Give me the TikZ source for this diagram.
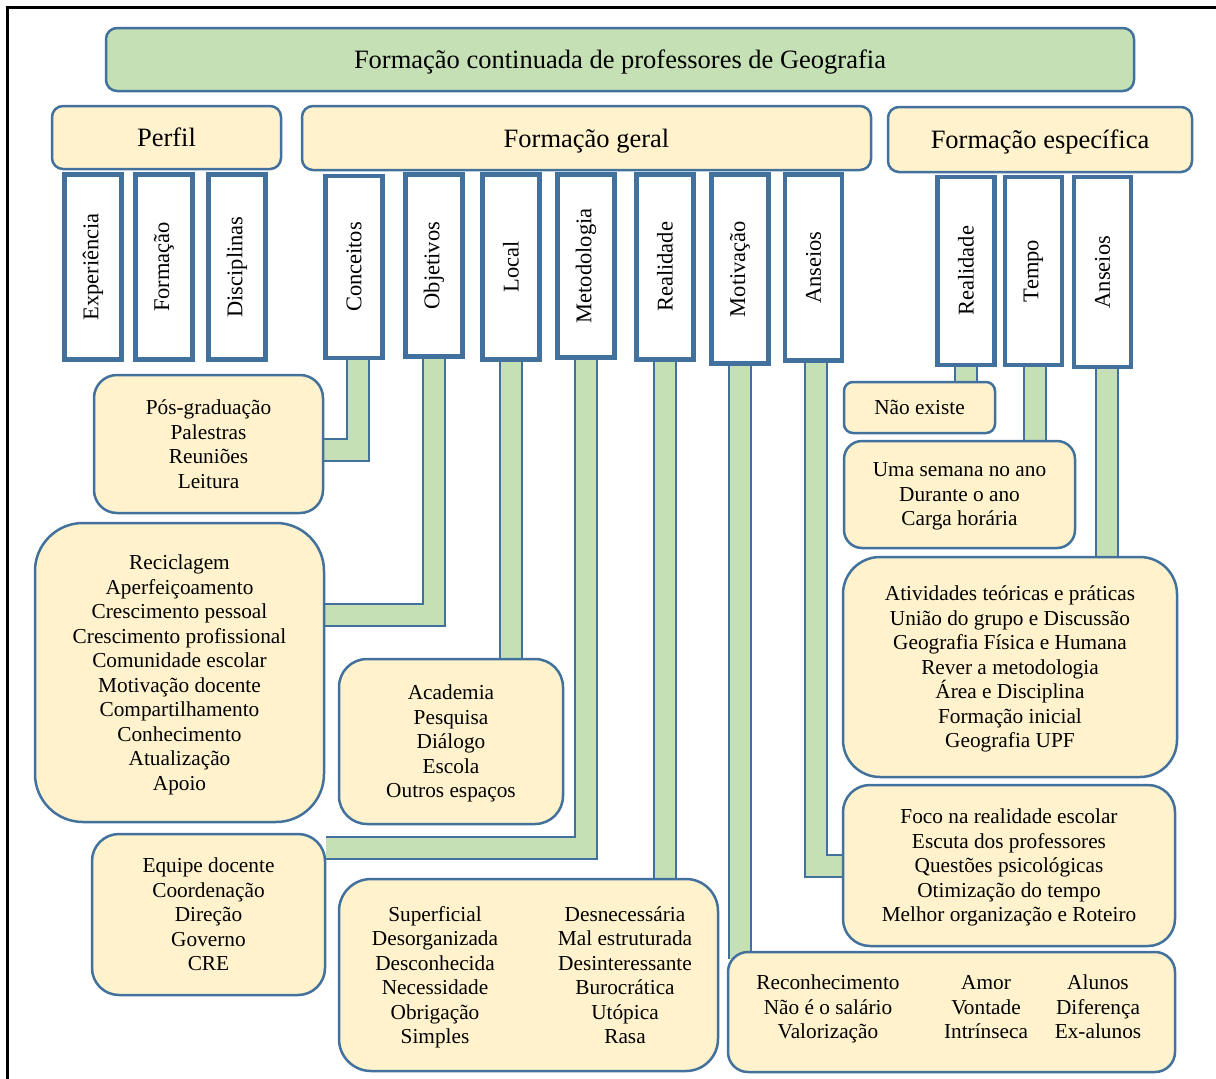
\documentclass[tikz,border=0pt]{standalone}
\usepackage{fontspec}
\usepackage{graphicx}
\setmainfont{Liberation Serif}
\usetikzlibrary{backgrounds}

\definecolor{edge}{RGB}{65,113,156}
\definecolor{leaf}{RGB}{197,224,180}
\definecolor{cream}{RGB}{255,242,204}

\tikzset{
  titlebox/.style={draw=edge, line width=2.5pt, fill=leaf, rounded corners=11pt,
    inner sep=0pt, text height=17pt, text depth=0pt, font=\fontsize{26.5}{30}\selectfont},
  headbox/.style={draw=edge, line width=2.5pt, fill=cream, rounded corners=11pt,
    inner sep=0pt, text height=18.5pt, text depth=0pt, font=\fontsize{26.5}{30}\selectfont},
  catbox/.style={draw=edge, line width=4.5pt, fill=white, inner sep=0pt,
    minimum width=57pt, font=\fontsize{22.5}{26}\selectfont},
  listbox/.style={draw=edge, line width=2.5pt, fill=cream, inner sep=0pt,
    align=center, text depth=0pt, font=\fontsize{21.3}{24.5}\selectfont},
  listtext/.style={align=center, inner sep=0pt, text depth=0pt,
    font=\fontsize{21.3}{24.5}\selectfont},
  conn/.style={draw=edge, line width=2pt, double=leaf, double distance=20pt},
  frameline/.style={draw=black, line width=3pt},
}

\newcommand{\vlabel}[1]{\rotatebox{90}{#1}}

\begin{document}
\begin{tikzpicture}[x=1pt, y=-1pt]
\useasboundingbox (0,0) rectangle (1216,1079);
\clip (0,0) rectangle (1216,1079);

% title and the three main headings
\node[titlebox, minimum width=1028pt, minimum height=63pt] (title) at (620,59.5)
  {Formação continuada de professores de Geografia};
\node[headbox, minimum width=229pt, minimum height=63pt] (perfil) at (166.5,137.5) {Perfil};
\node[headbox, minimum width=569pt, minimum height=64pt] (geral) at (586.5,138) {Formação geral};
\node[headbox, minimum width=304pt, minimum height=65pt] (espec) at (1040,139.5) {Formação específica};

% category boxes under "Perfil"
\node[catbox, minimum height=185pt] (exper) at (93,267) {\vlabel{Experiência}};
\node[catbox, minimum height=185pt] (forma) at (164,267) {\vlabel{Formação}};
\node[catbox, minimum height=185pt] (disc) at (237,267) {\vlabel{Disciplinas}};

% category boxes under "Formação geral"
\node[catbox, minimum height=182pt] (conc) at (354,267) {\vlabel{Conceitos}};
\node[catbox, minimum height=182pt] (objet) at (434,265.5) {\vlabel{Objetivos}};
\node[catbox, minimum height=185pt] (local) at (511,267) {\vlabel{Local}};
\node[catbox, minimum height=183pt] (metod) at (586,266) {\vlabel{Metodologia}};
\node[catbox, minimum height=185pt] (real) at (665,267) {\vlabel{Realidade}};
\node[catbox, minimum height=189pt] (motiv) at (740,269) {\vlabel{Motivação}};
\node[catbox, minimum height=186pt] (ans) at (813.5,267.5) {\vlabel{Anseios}};

% category boxes under "Formação específica"
\node[catbox, minimum height=188pt] (realesp) at (966,271) {\vlabel{Realidade}};
\node[catbox, minimum height=188pt] (tempo) at (1033.5,271) {\vlabel{Tempo}};
\node[catbox, minimum height=190pt] (ansesp) at (1102.5,272) {\vlabel{Anseios}};

% answer boxes
\node[listbox, minimum width=229pt, minimum height=138pt, rounded corners=23pt] (pos) at (208.5,444)
  {Pós-graduação\\Palestras\\Reuniões\\Leitura};
\node[listbox, minimum width=289pt, minimum height=299pt, rounded corners=48pt] (recic) at (179.5,672.5)
  {Reciclagem\\Aperfeiçoamento\\Crescimento pessoal\\Crescimento profissional\\Comunidade escolar\\Motivação docente\\Compartilhamento\\Conhecimento\\Atualização\\Apoio};
\node[listbox, minimum width=224pt, minimum height=165pt, rounded corners=28pt] (acad) at (451,741.5)
  {Academia\\Pesquisa\\Diálogo\\Escola\\Outros espaços};
\node[listbox, minimum width=233pt, minimum height=161pt, rounded corners=27pt] (equipe) at (208.5,914.5)
  {Equipe docente\\Coordenação\\Direção\\Governo\\CRE};
\node[listbox, minimum width=379pt, minimum height=192pt, rounded corners=32pt] (superf) at (528.5,975) {};
\node[listtext] (superfa) at (435,975)
  {Superficial\\Desorganizada\\Desconhecida\\Necessidade\\Obrigação\\Simples};
\node[listtext] (superfb) at (625,975)
  {Desnecessária\\Mal estruturada\\Desinteressante\\Burocrática\\Utópica\\Rasa};
\node[listbox, minimum width=151pt, minimum height=51pt, rounded corners=9pt] (naoex) at (919.5,407.5)
  {Não existe};
\node[listbox, minimum width=231pt, minimum height=107pt, rounded corners=18pt] (semana) at (959.5,494.5)
  {Uma semana no ano\\Durante o ano\\Carga horária};
\node[listbox, minimum width=334pt, minimum height=220pt, rounded corners=37pt] (ativ) at (1010,667)
  {Atividades teóricas e práticas\\União do grupo e Discussão\\Geografia Física e Humana\\Rever a metodologia\\Área e Disciplina\\Formação inicial\\Geografia UPF};
\node[listbox, minimum width=332pt, minimum height=161pt, rounded corners=27pt] (foco) at (1009,865.5)
  {Foco na realidade escolar\\Escuta dos professores\\Questões psicológicas\\Otimização do tempo\\Melhor organização e Roteiro};
\node[listbox, minimum width=447pt, minimum height=120pt, rounded corners=20pt] (recon) at (951.5,1012) {};
\node[listtext] (recona) at (828,1007) {Reconhecimento\\Não é o salário\\Valorização};
\node[listtext] (reconb) at (986,1007) {Amor\\Vontade\\Intrínseca};
\node[listtext] (reconc) at (1098,1007) {Alunos\\Diferença\\Ex-alunos};

% green connectors, kept behind the boxes
\begin{scope}[on background layer]
  \draw[conn] ([xshift=3.5pt]conc.south) |- ([yshift=-5.5pt]pos.east);
  \draw[conn] (objet.south) |- ([yshift=57.5pt]recic.east);
  \draw[conn] (local.south) -- (local.south |- acad.north);
  \draw[conn] (metod.south) |- ([yshift=67pt]equipe.east);
  \draw[conn] (real.south) -- (real.south |- superf.north);
  \draw[conn] (motiv.south) -- ([yshift=-8pt]motiv.south |- recon.north);
  \draw[conn] ([xshift=2.5pt]ans.south) |- (foco.west);
  \draw[conn] (realesp.south) -- (realesp.south |- naoex.north);
  \draw[conn] ([xshift=1.5pt]tempo.south) -- ([xshift=1.5pt]tempo.south |- semana.north);
  \draw[conn] ([xshift=4pt]ansesp.south) -- ([xshift=4pt]ansesp.south |- ativ.north);
\end{scope}

% outer frame (top and left edges)
\draw[frameline] (7.5,1090) -- (7.5,7.5) -- (1230,7.5);
\end{tikzpicture}
\end{document}
